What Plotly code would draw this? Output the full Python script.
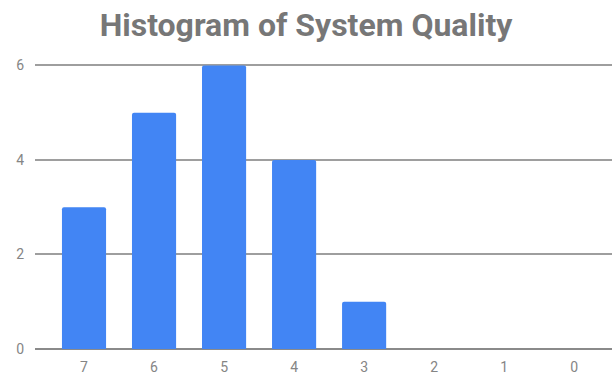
import plotly.graph_objects as go

# Quality scores (categories, highest first) and how many systems received each
scores = ["7", "6", "5", "4", "3", "2", "1", "0"]
counts = [3, 5, 6, 4, 1, 0, 0, 0]
y_ticks = [0, 2, 4, 6]

fig = go.Figure(
    go.Bar(
        x=scores,
        y=counts,
        marker=dict(color="#4285F4", line=dict(width=0)),
        width=0.63,
        hoverinfo="x+y",
    )
)

fig.update_layout(
    width=612,
    height=376,
    margin=dict(l=35, r=0, t=64, b=27),
    paper_bgcolor="white",
    plot_bgcolor="white",
    barcornerradius=2,
    showlegend=False,
    title=dict(
        text="<b>Histogram of System Quality</b>",
        x=0.5,
        xanchor="center",
        y=0.933,
        yanchor="middle",
        font=dict(family="Roboto", size=32, color="#777777"),
    ),
    font=dict(family="Roboto", color="#858585"),
)

fig.update_xaxes(
    type="category",
    range=[-0.7, 7.54],
    showgrid=False,
    showline=False,
    ticks="",
    ticklabelstandoff=8,
    tickfont=dict(size=14, color="#858585"),
)

fig.update_yaxes(
    range=[0, 6.03],
    tickvals=y_ticks,
    showgrid=True,
    gridcolor="#9e9e9e",
    gridwidth=2,
    zeroline=True,
    zerolinecolor="#8a8a8a",
    zerolinewidth=2,
    ticks="",
    ticklabelstandoff=10,
    tickfont=dict(size=14, color="#858585"),
)

fig.write_html("out.html")
